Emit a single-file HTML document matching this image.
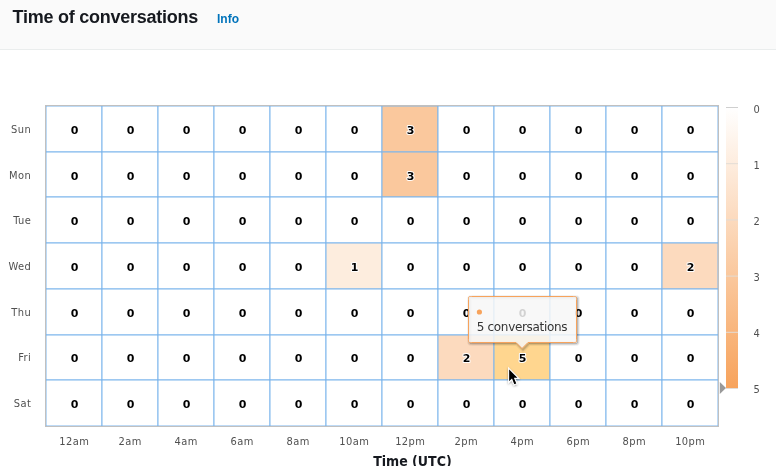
<!DOCTYPE html>
<html lang="en"><head><meta charset="utf-8"><title>Time of conversations</title>
<style>
html,body{margin:0;padding:0;background:#fff;}
body{width:776px;height:476px;overflow:hidden;position:relative;font-family:"Liberation Sans",sans-serif;}
.hdr{position:absolute;left:0;top:0;width:776px;height:49px;background:#fafafa;border-bottom:1px solid #eaeded;}
.hdr h2{position:absolute;left:12.5px;top:6px;margin:0;font:bold 18px/22px "Liberation Sans",sans-serif;color:#16191f;letter-spacing:-0.25px;white-space:nowrap;}
.hdr a{position:absolute;left:217px;top:11px;font:bold 12px/16px "Liberation Sans",sans-serif;color:#0073bb;text-decoration:none;white-space:nowrap;}
.chart{position:absolute;left:0;top:50px;}
.chart text{font-family:"DejaVu Sans","Liberation Sans",sans-serif;}
.dl text{font-size:11px;font-weight:bold;fill:#000;}
.dl text.ol{paint-order:stroke;stroke:#fff;stroke-width:2px;stroke-linejoin:round;}
.ax text{font-family:"DejaVu Sans Condensed","DejaVu Sans",sans-serif;font-size:11px;fill:#505050;letter-spacing:0.45px;}
.chart text.xt{font-family:"DejaVu Sans Condensed","DejaVu Sans",sans-serif;font-size:14px;font-weight:bold;fill:#16191f;}
.chart text.tt{font-size:12px;fill:#333;letter-spacing:-0.33px;}
</style></head>
<body>
<div class="hdr"><h2>Time of conversations</h2><a>Info</a></div>
<svg class="chart" width="776" height="416" viewBox="0 50 776 416">
<defs><clipPath id="plotclip"><rect x="46" y="106" width="672" height="320"/></clipPath>
<linearGradient id="lg" x1="0" y1="0" x2="0" y2="1"><stop offset="0" stop-color="#ffffff"/><stop offset="1" stop-color="#f7a35c"/></linearGradient>
<filter id="sh" x="-10%" y="-20%" width="120%" height="150%"><feDropShadow dx="1" dy="1" stdDeviation="1" flood-color="#000" flood-opacity="0.18"/></filter>
<filter id="csh" x="-50%" y="-50%" width="200%" height="200%"><feDropShadow dx="0" dy="1" stdDeviation="0.8" flood-color="#000" flood-opacity="0.35"/></filter>
</defs>
<g>
<rect x="45.5" y="105.5" width="673" height="321" fill="none" stroke="#c0c0c0" stroke-width="1"/>
<g clip-path="url(#plotclip)" stroke="#7cb5ec" stroke-width="1">
<rect x="46" y="106" width="56" height="46" fill="#ffffff"/>
<rect x="46" y="152" width="56" height="45" fill="#ffffff"/>
<rect x="46" y="197" width="56" height="46" fill="#ffffff"/>
<rect x="46" y="243" width="56" height="46" fill="#ffffff"/>
<rect x="46" y="289" width="56" height="46" fill="#ffffff"/>
<rect x="46" y="335" width="56" height="45" fill="#ffffff"/>
<rect x="46" y="380" width="56" height="46" fill="#ffffff"/>
<rect x="102" y="106" width="56" height="46" fill="#ffffff"/>
<rect x="102" y="152" width="56" height="45" fill="#ffffff"/>
<rect x="102" y="197" width="56" height="46" fill="#ffffff"/>
<rect x="102" y="243" width="56" height="46" fill="#ffffff"/>
<rect x="102" y="289" width="56" height="46" fill="#ffffff"/>
<rect x="102" y="335" width="56" height="45" fill="#ffffff"/>
<rect x="102" y="380" width="56" height="46" fill="#ffffff"/>
<rect x="158" y="106" width="56" height="46" fill="#ffffff"/>
<rect x="158" y="152" width="56" height="45" fill="#ffffff"/>
<rect x="158" y="197" width="56" height="46" fill="#ffffff"/>
<rect x="158" y="243" width="56" height="46" fill="#ffffff"/>
<rect x="158" y="289" width="56" height="46" fill="#ffffff"/>
<rect x="158" y="335" width="56" height="45" fill="#ffffff"/>
<rect x="158" y="380" width="56" height="46" fill="#ffffff"/>
<rect x="214" y="106" width="56" height="46" fill="#ffffff"/>
<rect x="214" y="152" width="56" height="45" fill="#ffffff"/>
<rect x="214" y="197" width="56" height="46" fill="#ffffff"/>
<rect x="214" y="243" width="56" height="46" fill="#ffffff"/>
<rect x="214" y="289" width="56" height="46" fill="#ffffff"/>
<rect x="214" y="335" width="56" height="45" fill="#ffffff"/>
<rect x="214" y="380" width="56" height="46" fill="#ffffff"/>
<rect x="270" y="106" width="56" height="46" fill="#ffffff"/>
<rect x="270" y="152" width="56" height="45" fill="#ffffff"/>
<rect x="270" y="197" width="56" height="46" fill="#ffffff"/>
<rect x="270" y="243" width="56" height="46" fill="#ffffff"/>
<rect x="270" y="289" width="56" height="46" fill="#ffffff"/>
<rect x="270" y="335" width="56" height="45" fill="#ffffff"/>
<rect x="270" y="380" width="56" height="46" fill="#ffffff"/>
<rect x="326" y="106" width="56" height="46" fill="#ffffff"/>
<rect x="326" y="152" width="56" height="45" fill="#ffffff"/>
<rect x="326" y="197" width="56" height="46" fill="#ffffff"/>
<rect x="326" y="243" width="56" height="46" fill="#fdedde"/>
<rect x="326" y="289" width="56" height="46" fill="#ffffff"/>
<rect x="326" y="335" width="56" height="45" fill="#ffffff"/>
<rect x="326" y="380" width="56" height="46" fill="#ffffff"/>
<rect x="382" y="106" width="56" height="46" fill="#fac89d"/>
<rect x="382" y="152" width="56" height="45" fill="#fac89d"/>
<rect x="382" y="197" width="56" height="46" fill="#ffffff"/>
<rect x="382" y="243" width="56" height="46" fill="#ffffff"/>
<rect x="382" y="289" width="56" height="46" fill="#ffffff"/>
<rect x="382" y="335" width="56" height="45" fill="#ffffff"/>
<rect x="382" y="380" width="56" height="46" fill="#ffffff"/>
<rect x="438" y="106" width="56" height="46" fill="#ffffff"/>
<rect x="438" y="152" width="56" height="45" fill="#ffffff"/>
<rect x="438" y="197" width="56" height="46" fill="#ffffff"/>
<rect x="438" y="243" width="56" height="46" fill="#ffffff"/>
<rect x="438" y="289" width="56" height="46" fill="#ffffff"/>
<rect x="438" y="335" width="56" height="45" fill="#fcdabe"/>
<rect x="438" y="380" width="56" height="46" fill="#ffffff"/>
<rect x="494" y="106" width="56" height="46" fill="#ffffff"/>
<rect x="494" y="152" width="56" height="45" fill="#ffffff"/>
<rect x="494" y="197" width="56" height="46" fill="#ffffff"/>
<rect x="494" y="243" width="56" height="46" fill="#ffffff"/>
<rect x="494" y="289" width="56" height="46" fill="#ffffff"/>
<rect x="494" y="335" width="56" height="45" fill="#ffd68f"/>
<rect x="494" y="380" width="56" height="46" fill="#ffffff"/>
<rect x="550" y="106" width="56" height="46" fill="#ffffff"/>
<rect x="550" y="152" width="56" height="45" fill="#ffffff"/>
<rect x="550" y="197" width="56" height="46" fill="#ffffff"/>
<rect x="550" y="243" width="56" height="46" fill="#ffffff"/>
<rect x="550" y="289" width="56" height="46" fill="#ffffff"/>
<rect x="550" y="335" width="56" height="45" fill="#ffffff"/>
<rect x="550" y="380" width="56" height="46" fill="#ffffff"/>
<rect x="606" y="106" width="56" height="46" fill="#ffffff"/>
<rect x="606" y="152" width="56" height="45" fill="#ffffff"/>
<rect x="606" y="197" width="56" height="46" fill="#ffffff"/>
<rect x="606" y="243" width="56" height="46" fill="#ffffff"/>
<rect x="606" y="289" width="56" height="46" fill="#ffffff"/>
<rect x="606" y="335" width="56" height="45" fill="#ffffff"/>
<rect x="606" y="380" width="56" height="46" fill="#ffffff"/>
<rect x="662" y="106" width="56" height="46" fill="#ffffff"/>
<rect x="662" y="152" width="56" height="45" fill="#ffffff"/>
<rect x="662" y="197" width="56" height="46" fill="#ffffff"/>
<rect x="662" y="243" width="56" height="46" fill="#fcdabe"/>
<rect x="662" y="289" width="56" height="46" fill="#ffffff"/>
<rect x="662" y="335" width="56" height="45" fill="#ffffff"/>
<rect x="662" y="380" width="56" height="46" fill="#ffffff"/>
</g>
</g>
<g class="dl" text-anchor="middle">
<text x="74.6" y="133.8">0</text>
<text x="130.6" y="133.8">0</text>
<text x="186.6" y="133.8">0</text>
<text x="242.6" y="133.8">0</text>
<text x="298.6" y="133.8">0</text>
<text x="354.6" y="133.8">0</text>
<text x="410.6" y="133.8" class="ol">3</text>
<text x="466.6" y="133.8">0</text>
<text x="522.6" y="133.8">0</text>
<text x="578.6" y="133.8">0</text>
<text x="634.6" y="133.8">0</text>
<text x="690.6" y="133.8">0</text>
<text x="74.6" y="179.5">0</text>
<text x="130.6" y="179.5">0</text>
<text x="186.6" y="179.5">0</text>
<text x="242.6" y="179.5">0</text>
<text x="298.6" y="179.5">0</text>
<text x="354.6" y="179.5">0</text>
<text x="410.6" y="179.5" class="ol">3</text>
<text x="466.6" y="179.5">0</text>
<text x="522.6" y="179.5">0</text>
<text x="578.6" y="179.5">0</text>
<text x="634.6" y="179.5">0</text>
<text x="690.6" y="179.5">0</text>
<text x="74.6" y="225.2">0</text>
<text x="130.6" y="225.2">0</text>
<text x="186.6" y="225.2">0</text>
<text x="242.6" y="225.2">0</text>
<text x="298.6" y="225.2">0</text>
<text x="354.6" y="225.2">0</text>
<text x="410.6" y="225.2">0</text>
<text x="466.6" y="225.2">0</text>
<text x="522.6" y="225.2">0</text>
<text x="578.6" y="225.2">0</text>
<text x="634.6" y="225.2">0</text>
<text x="690.6" y="225.2">0</text>
<text x="74.6" y="270.9">0</text>
<text x="130.6" y="270.9">0</text>
<text x="186.6" y="270.9">0</text>
<text x="242.6" y="270.9">0</text>
<text x="298.6" y="270.9">0</text>
<text x="354.6" y="270.9" class="ol">1</text>
<text x="410.6" y="270.9">0</text>
<text x="466.6" y="270.9">0</text>
<text x="522.6" y="270.9">0</text>
<text x="578.6" y="270.9">0</text>
<text x="634.6" y="270.9">0</text>
<text x="690.6" y="270.9" class="ol">2</text>
<text x="74.6" y="316.6">0</text>
<text x="130.6" y="316.6">0</text>
<text x="186.6" y="316.6">0</text>
<text x="242.6" y="316.6">0</text>
<text x="298.6" y="316.6">0</text>
<text x="354.6" y="316.6">0</text>
<text x="410.6" y="316.6">0</text>
<text x="466.6" y="316.6">0</text>
<text x="522.6" y="316.6">0</text>
<text x="578.6" y="316.6">0</text>
<text x="634.6" y="316.6">0</text>
<text x="690.6" y="316.6">0</text>
<text x="74.6" y="362.3">0</text>
<text x="130.6" y="362.3">0</text>
<text x="186.6" y="362.3">0</text>
<text x="242.6" y="362.3">0</text>
<text x="298.6" y="362.3">0</text>
<text x="354.6" y="362.3">0</text>
<text x="410.6" y="362.3">0</text>
<text x="466.6" y="362.3" class="ol">2</text>
<text x="522.6" y="362.3" class="ol">5</text>
<text x="578.6" y="362.3">0</text>
<text x="634.6" y="362.3">0</text>
<text x="690.6" y="362.3">0</text>
<text x="74.6" y="408.0">0</text>
<text x="130.6" y="408.0">0</text>
<text x="186.6" y="408.0">0</text>
<text x="242.6" y="408.0">0</text>
<text x="298.6" y="408.0">0</text>
<text x="354.6" y="408.0">0</text>
<text x="410.6" y="408.0">0</text>
<text x="466.6" y="408.0">0</text>
<text x="522.6" y="408.0">0</text>
<text x="578.6" y="408.0">0</text>
<text x="634.6" y="408.0">0</text>
<text x="690.6" y="408.0">0</text>
</g>
<g class="ax" text-anchor="end">
<text x="31.3" y="132.9">Sun</text>
<text x="31.3" y="178.6">Mon</text>
<text x="31.3" y="224.3">Tue</text>
<text x="31.3" y="270.0">Wed</text>
<text x="31.3" y="315.7">Thu</text>
<text x="31.3" y="361.4">Fri</text>
<text x="31.3" y="407.1">Sat</text>
</g>
<g class="ax" text-anchor="middle">
<text x="74.3" y="444.5">12am</text>
<text x="130.3" y="444.5">2am</text>
<text x="186.3" y="444.5">4am</text>
<text x="242.3" y="444.5">6am</text>
<text x="298.3" y="444.5">8am</text>
<text x="354.3" y="444.5">10am</text>
<text x="410.3" y="444.5">12pm</text>
<text x="466.3" y="444.5">2pm</text>
<text x="522.3" y="444.5">4pm</text>
<text x="578.3" y="444.5">6pm</text>
<text x="634.3" y="444.5">8pm</text>
<text x="690.3" y="444.5">10pm</text>
</g>
<text class="xt" x="412.4" y="465.7" text-anchor="middle">Time (UTC)</text>
<rect x="726" y="107" width="12" height="281" fill="url(#lg)"/>
<line x1="726" x2="738" y1="107.5" y2="107.5" stroke="#cfcfcf" stroke-width="1"/>
<line x1="726" x2="738" y1="163.7" y2="163.7" stroke="#e2dcd6" stroke-width="1"/>
<line x1="726" x2="738" y1="219.9" y2="219.9" stroke="#e2dcd6" stroke-width="1"/>
<line x1="726" x2="738" y1="276.1" y2="276.1" stroke="#e2dcd6" stroke-width="1"/>
<line x1="726" x2="738" y1="332.3" y2="332.3" stroke="#e2dcd6" stroke-width="1"/>
<line x1="726" x2="738" y1="388.5" y2="388.5" stroke="#e2dcd6" stroke-width="1"/>
<g class="ax">
<text x="753.5" y="112.9">0</text>
<text x="753.5" y="169.0">1</text>
<text x="753.5" y="225.1">2</text>
<text x="753.5" y="281.2">3</text>
<text x="753.5" y="337.3">4</text>
<text x="753.5" y="393.0">5</text>
</g>
<path d="M719.8 382 L726 388 L719.8 394 Z" fill="#999"/>
<path d="M471.5 296.5 L573.5 296.5 C576.5 296.5 576.5 296.5 576.5 299.5 L576.5 339.5 C576.5 342.5 576.5 342.5 573.5 342.5 L528 342.5 L522 348.5 L516 342.5 L471.5 342.5 C468.5 342.5 468.5 342.5 468.5 339.5 L468.5 299.5 C468.5 296.5 468.5 296.5 471.5 296.5 Z" fill="none" stroke="#000" stroke-opacity="0.05" stroke-width="5" transform="translate(1 1)"/>
<path d="M471.5 296.5 L573.5 296.5 C576.5 296.5 576.5 296.5 576.5 299.5 L576.5 339.5 C576.5 342.5 576.5 342.5 573.5 342.5 L528 342.5 L522 348.5 L516 342.5 L471.5 342.5 C468.5 342.5 468.5 342.5 468.5 339.5 L468.5 299.5 C468.5 296.5 468.5 296.5 471.5 296.5 Z" fill="none" stroke="#000" stroke-opacity="0.1" stroke-width="3" transform="translate(1 1)"/>
<path d="M471.5 296.5 L573.5 296.5 C576.5 296.5 576.5 296.5 576.5 299.5 L576.5 339.5 C576.5 342.5 576.5 342.5 573.5 342.5 L528 342.5 L522 348.5 L516 342.5 L471.5 342.5 C468.5 342.5 468.5 342.5 468.5 339.5 L468.5 299.5 C468.5 296.5 468.5 296.5 471.5 296.5 Z" fill="none" stroke="#000" stroke-opacity="0.15" stroke-width="1" transform="translate(1 1)"/>
<path d="M471.5 296.5 L573.5 296.5 C576.5 296.5 576.5 296.5 576.5 299.5 L576.5 339.5 C576.5 342.5 576.5 342.5 573.5 342.5 L528 342.5 L522 348.5 L516 342.5 L471.5 342.5 C468.5 342.5 468.5 342.5 468.5 339.5 L468.5 299.5 C468.5 296.5 468.5 296.5 471.5 296.5 Z" fill="rgba(247,247,247,0.85)" stroke="#f7a35c" stroke-width="1"/>
<circle cx="479.4" cy="312" r="2.6" fill="#f7a35c"/>
<text class="tt" x="476.8" y="330.7">5 conversations</text>
<g filter="url(#csh)"><path d="M508.6 368.2 L508.6 382.4 L511.8 379.5 L514.0 384.9 L517.0 383.7 L514.7 378.4 L518.8 378.4 Z" fill="#000" stroke="#fff" stroke-width="1.1" stroke-linejoin="miter"/></g>
</svg>
</body></html>
